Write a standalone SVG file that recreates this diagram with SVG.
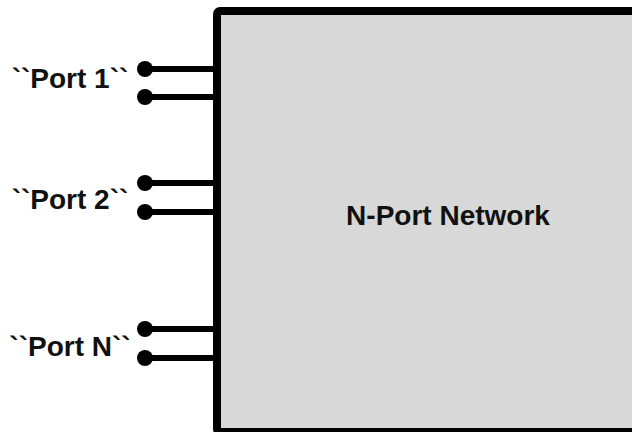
<svg xmlns="http://www.w3.org/2000/svg" width="632" height="432" viewBox="0 0 632 432">
<style>
.lbl{font-family:"Liberation Sans",Arial,sans-serif;font-weight:bold;font-size:28px;fill:#111}
.wire{stroke:#000;stroke-width:6;fill:none}
.dot{fill:#000}
</style>
<rect width="632" height="432" fill="#fff"/>
<g id="network">
<rect x="217" y="11" width="440" height="421" rx="3" fill="#d8d8d8" stroke="#000" stroke-width="8"/>
<text class="lbl" x="448" y="225" text-anchor="middle">N-Port Network</text>
</g>
<g id="connectors">
<line class="wire" x1="145" y1="69" x2="217" y2="69"/>
<line class="wire" x1="145" y1="97" x2="217" y2="97"/>
<line class="wire" x1="145" y1="183" x2="217" y2="183"/>
<line class="wire" x1="145" y1="212" x2="217" y2="212"/>
<line class="wire" x1="145" y1="329" x2="217" y2="329"/>
<line class="wire" x1="145" y1="358" x2="217" y2="358"/>
</g>
<g id="port1">
<circle class="dot" cx="145" cy="69" r="8"/>
<circle class="dot" cx="145" cy="97" r="8"/>
<text class="lbl" x="70" y="88" text-anchor="middle">``Port 1``</text>
</g>
<g id="port2">
<circle class="dot" cx="145" cy="183" r="8"/>
<circle class="dot" cx="145" cy="212" r="8"/>
<text class="lbl" x="70" y="209" text-anchor="middle">``Port 2``</text>
</g>
<g id="portN">
<circle class="dot" cx="145" cy="329" r="8"/>
<circle class="dot" cx="145" cy="358" r="8"/>
<text class="lbl" x="70" y="356" text-anchor="middle">``Port N``</text>
</g>
</svg>
